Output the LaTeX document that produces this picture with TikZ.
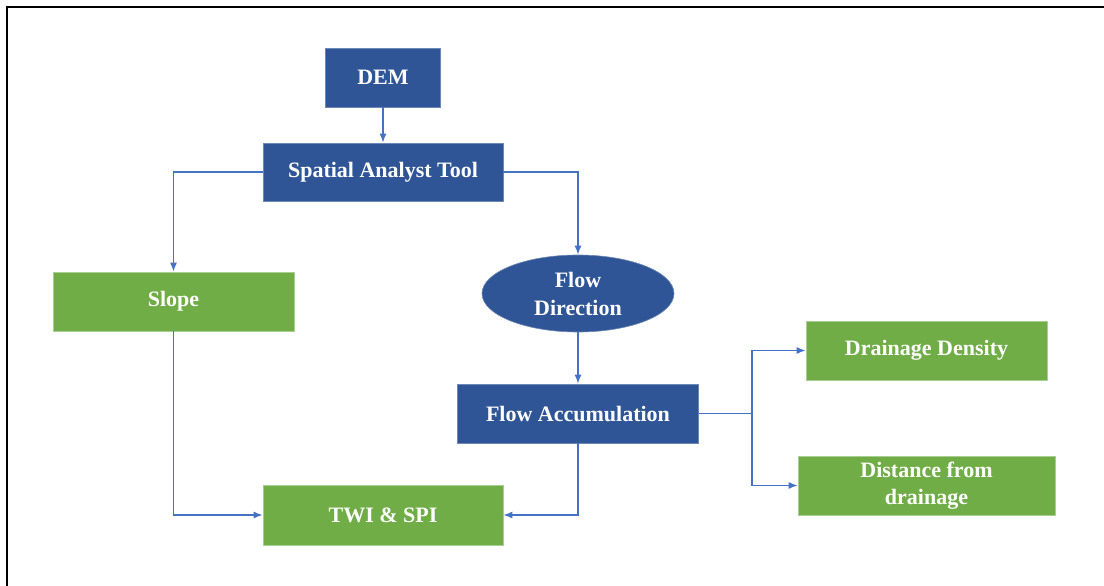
\documentclass[tikz,border=0pt]{standalone}
\usepackage{fontspec}
\setmainfont{Liberation Serif}
\usetikzlibrary{arrows.meta, positioning, shapes.geometric}
\definecolor{boxblue}{HTML}{2F5597}
\definecolor{boxgreen}{HTML}{70AD47}
\definecolor{linkblue}{HTML}{4472C4}

\begin{document}
\begin{tikzpicture}[
        x=1pt, y=-1pt,
        box/.style={rectangle, text=white, font=\fontsize{22}{27}\selectfont\bfseries, align=center, inner sep=2pt},
        bluebox/.style={box, fill=boxblue, draw=boxblue!70!white, line width=0.6pt},
        greenbox/.style={box, fill=boxgreen, draw=boxgreen!60!white, line width=0.6pt},
        arr/.style={-{Latex[length=9pt, width=7pt]}, linkblue, line width=1.4pt},
        link/.style={linkblue, line width=1.4pt}
    ]
        % frame and canvas
        \useasboundingbox (0,0) rectangle (1104,586);
        \draw[line width=2.5pt] (1104,7) -- (7,7) -- (7,586);

        % Main chain
        \node[bluebox, minimum width=115pt, minimum height=59pt] (dem) at (383, 77.5) {DEM};
        \node[bluebox, minimum width=240pt, minimum height=58pt] (sat) at (383, 172) {Spatial Analyst Tool};
        \node[greenbox, minimum width=241pt, minimum height=59pt] (slope) at (173.5, 301.5) {Slope};
        \node[ellipse, text=white, font=\fontsize{22}{28}\selectfont\bfseries, align=center, inner sep=1pt,
              fill=boxblue, draw=boxblue!70!white, line width=0.6pt,
              minimum width=192pt, minimum height=77pt] (fdir) at (578, 293.5) {Flow\\Direction};
        \node[bluebox, minimum width=241pt, minimum height=59pt] (facc) at (578, 413.5) {Flow Accumulation};
        \node[greenbox, minimum width=240pt, minimum height=60pt] (twi) at (383, 515) {TWI \& SPI};

        % Outputs on the right
        \node[greenbox, minimum width=241pt, minimum height=59pt] (dd) at (926.5, 350.5) {Drainage Density};
        \node[greenbox, minimum width=257pt, minimum height=59pt] (dist) at (926.5, 485.5) {Distance from\\drainage};
        \coordinate (split) at (752, 413.5);

        % Connectors
        \draw[arr] (dem) -- (sat);
        \draw[arr] (sat.west) -| (slope.north);
        \draw[arr] (sat.east) -| (fdir.north);
        \draw[arr] (fdir) -- (facc);
        \draw[arr] (slope.south) |- (twi.west);
        \draw[arr] (facc.south) |- (twi.east);
        \draw[link] (facc.east) -- (split);
        \draw[arr] (split) |- (dd.west);
        \draw[arr] (split) |- (dist.west);
    \end{tikzpicture}
\end{document}
